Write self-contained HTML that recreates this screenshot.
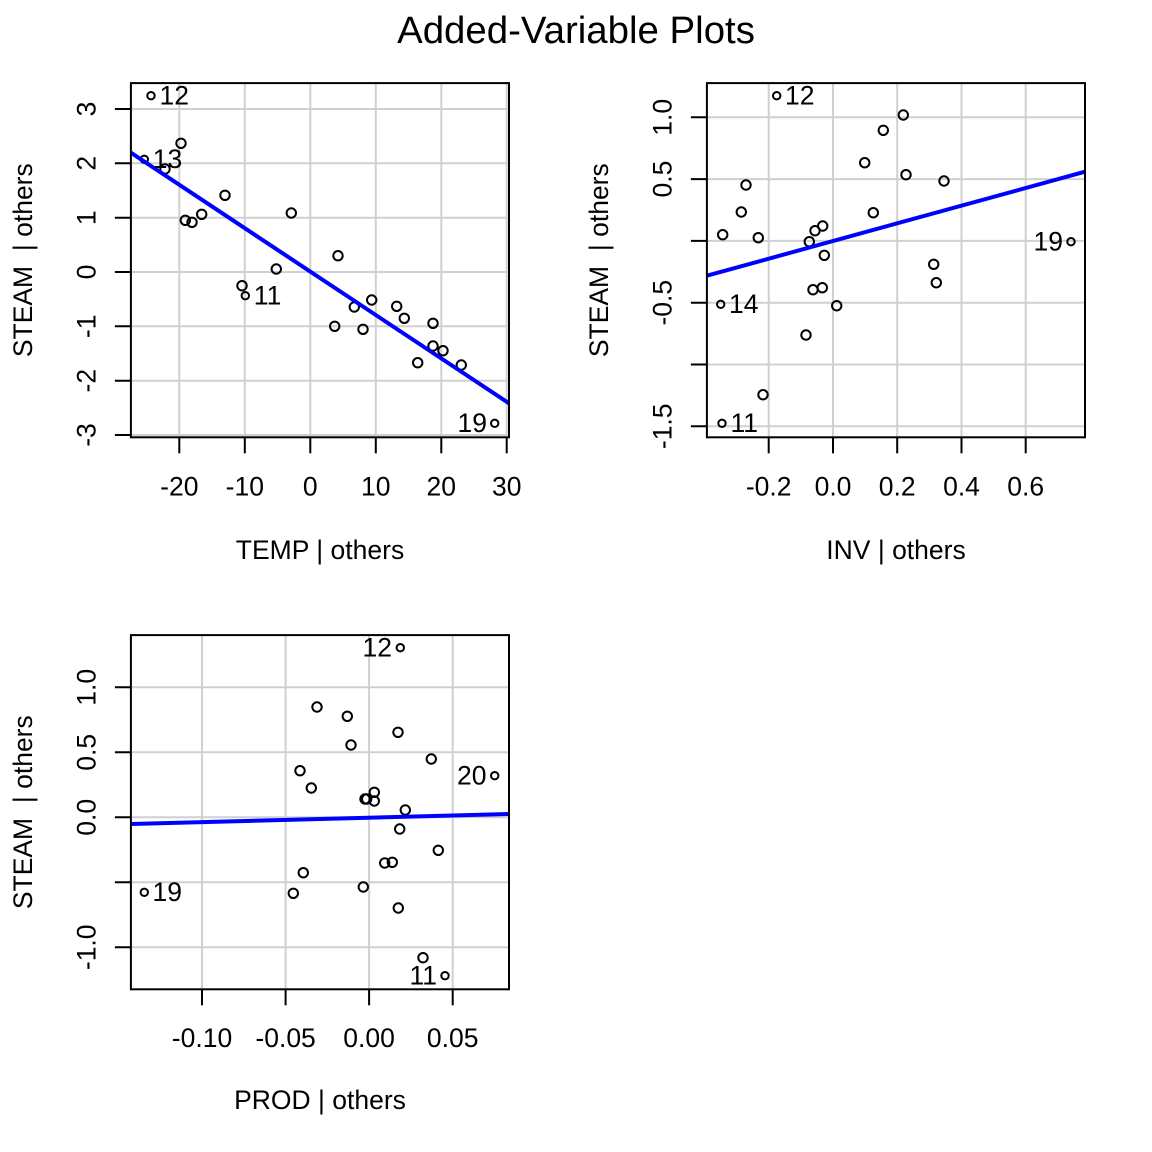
<!DOCTYPE html>
<html>
<head>
<meta charset="utf-8">
<style>
html,body{margin:0;padding:0;background:#fff;}
svg{display:block;}
text{font-family:"Liberation Sans",Arial,Helvetica,sans-serif;fill:#000;}
.t{font-size:26.5px;}
.lab{font-size:26.5px;}
</style>
</head>
<body>
<svg width="1152" height="1152" viewBox="0 0 1152 1152" xmlns="http://www.w3.org/2000/svg">
<rect x="0" y="0" width="1152" height="1152" fill="#fff"/>
<text x="576" y="43" text-anchor="middle" style="font-size:38.4px">Added-Variable Plots</text>

<!-- ================= PLOT 1 ================= -->
<g stroke="#d0d0d0" stroke-width="2" fill="none">
<line x1="179.3" y1="83.1" x2="179.3" y2="437.3"/>
<line x1="244.8" y1="83.1" x2="244.8" y2="437.3"/>
<line x1="310.3" y1="83.1" x2="310.3" y2="437.3"/>
<line x1="375.8" y1="83.1" x2="375.8" y2="437.3"/>
<line x1="441.3" y1="83.1" x2="441.3" y2="437.3"/>
<line x1="506.7" y1="83.1" x2="506.7" y2="437.3"/>
<line x1="130.9" y1="109" x2="509" y2="109"/>
<line x1="130.9" y1="163.3" x2="509" y2="163.3"/>
<line x1="130.9" y1="217.7" x2="509" y2="217.7"/>
<line x1="130.9" y1="272" x2="509" y2="272"/>
<line x1="130.9" y1="326.3" x2="509" y2="326.3"/>
<line x1="130.9" y1="380.7" x2="509" y2="380.7"/>
<line x1="130.9" y1="435" x2="509" y2="435"/>
</g>
<g stroke="#000" stroke-width="2" fill="none">
<circle cx="181" cy="143.3" r="4.7"/>
<circle cx="165" cy="169" r="4.7"/>
<circle cx="225" cy="195.3" r="4.7"/>
<circle cx="185.3" cy="220.3" r="4.7"/>
<circle cx="192" cy="222.3" r="4.7"/>
<circle cx="201.7" cy="214.3" r="4.7"/>
<circle cx="291.3" cy="213" r="4.7"/>
<circle cx="338" cy="255.7" r="4.7"/>
<circle cx="276.3" cy="269" r="4.7"/>
<circle cx="242" cy="285.7" r="4.7"/>
<circle cx="354.3" cy="307" r="4.7"/>
<circle cx="371.7" cy="300" r="4.7"/>
<circle cx="396.7" cy="306.3" r="4.7"/>
<circle cx="404.3" cy="318.3" r="4.7"/>
<circle cx="334.7" cy="326.3" r="4.7"/>
<circle cx="363" cy="329.3" r="4.7"/>
<circle cx="433" cy="323.3" r="4.7"/>
<circle cx="433" cy="346" r="4.7"/>
<circle cx="443" cy="350.7" r="4.7"/>
<circle cx="417.7" cy="362.7" r="4.7"/>
<circle cx="461.3" cy="365" r="4.7"/>
<circle cx="151" cy="95.7" r="3.7"/>
<circle cx="144.3" cy="159.3" r="3.7"/>
<circle cx="245.3" cy="295.7" r="3.7"/>
<circle cx="494.7" cy="423.3" r="3.7"/>
</g>
<line x1="130.9" y1="152.7" x2="509" y2="403.3" stroke="#0000ff" stroke-width="4"/>
<text class="lab" x="159.5" y="104.5">12</text>
<text class="lab" x="152.8" y="168">13</text>
<text class="lab" x="253.8" y="304.5">11</text>
<text class="lab" x="487" y="432" text-anchor="end">19</text>
<rect x="130.9" y="83.1" width="378.1" height="354.2" fill="none" stroke="#000" stroke-width="2"/>
<g stroke="#000" stroke-width="2">
<line x1="179.3" y1="437.3" x2="179.3" y2="453.3"/>
<line x1="244.8" y1="437.3" x2="244.8" y2="453.3"/>
<line x1="310.3" y1="437.3" x2="310.3" y2="453.3"/>
<line x1="375.8" y1="437.3" x2="375.8" y2="453.3"/>
<line x1="441.3" y1="437.3" x2="441.3" y2="453.3"/>
<line x1="506.7" y1="437.3" x2="506.7" y2="453.3"/>
<line x1="130.9" y1="109" x2="114.9" y2="109"/>
<line x1="130.9" y1="163.3" x2="114.9" y2="163.3"/>
<line x1="130.9" y1="217.7" x2="114.9" y2="217.7"/>
<line x1="130.9" y1="272" x2="114.9" y2="272"/>
<line x1="130.9" y1="326.3" x2="114.9" y2="326.3"/>
<line x1="130.9" y1="380.7" x2="114.9" y2="380.7"/>
<line x1="130.9" y1="435" x2="114.9" y2="435"/>
</g>
<g class="t" text-anchor="middle">
<text x="179.3" y="495.5">-20</text>
<text x="244.8" y="495.5">-10</text>
<text x="310.3" y="495.5">0</text>
<text x="375.8" y="495.5">10</text>
<text x="441.3" y="495.5">20</text>
<text x="506.7" y="495.5">30</text>
<text transform="translate(95.4,109) rotate(-90)">3</text>
<text transform="translate(95.4,163.3) rotate(-90)">2</text>
<text transform="translate(95.4,217.7) rotate(-90)">1</text>
<text transform="translate(95.4,272) rotate(-90)">0</text>
<text transform="translate(95.4,326.3) rotate(-90)">-1</text>
<text transform="translate(95.4,380.7) rotate(-90)">-2</text>
<text transform="translate(95.4,435) rotate(-90)">-3</text>
<text x="320" y="559">TEMP | others</text>
<text transform="translate(32,260.2) rotate(-90)" style="white-space:pre">STEAM  | others</text>
</g>

<!-- ================= PLOT 2 ================= -->
<g stroke="#d0d0d0" stroke-width="2" fill="none">
<line x1="768.7" y1="83.1" x2="768.7" y2="437.3"/>
<line x1="833" y1="83.1" x2="833" y2="437.3"/>
<line x1="897.2" y1="83.1" x2="897.2" y2="437.3"/>
<line x1="961.5" y1="83.1" x2="961.5" y2="437.3"/>
<line x1="1025.7" y1="83.1" x2="1025.7" y2="437.3"/>
<line x1="706.9" y1="117.3" x2="1085" y2="117.3"/>
<line x1="706.9" y1="179.1" x2="1085" y2="179.1"/>
<line x1="706.9" y1="240.9" x2="1085" y2="240.9"/>
<line x1="706.9" y1="302.7" x2="1085" y2="302.7"/>
<line x1="706.9" y1="364.5" x2="1085" y2="364.5"/>
<line x1="706.9" y1="426.3" x2="1085" y2="426.3"/>
</g>
<g stroke="#000" stroke-width="2" fill="none">
<circle cx="903.3" cy="115" r="4.7"/>
<circle cx="883.3" cy="130.3" r="4.7"/>
<circle cx="864.7" cy="162.7" r="4.7"/>
<circle cx="906" cy="174.7" r="4.7"/>
<circle cx="944" cy="181" r="4.7"/>
<circle cx="746" cy="185" r="4.7"/>
<circle cx="741.3" cy="212" r="4.7"/>
<circle cx="873.3" cy="212.7" r="4.7"/>
<circle cx="722.7" cy="234.7" r="4.7"/>
<circle cx="758.3" cy="237.7" r="4.7"/>
<circle cx="815" cy="230.7" r="4.7"/>
<circle cx="822.7" cy="226" r="4.7"/>
<circle cx="809.3" cy="241.7" r="4.7"/>
<circle cx="824.3" cy="255.3" r="4.7"/>
<circle cx="933.7" cy="264.3" r="4.7"/>
<circle cx="936.3" cy="282.7" r="4.7"/>
<circle cx="813" cy="289.7" r="4.7"/>
<circle cx="822.3" cy="287.7" r="4.7"/>
<circle cx="836.7" cy="305.7" r="4.7"/>
<circle cx="806" cy="335" r="4.7"/>
<circle cx="763" cy="394.7" r="4.7"/>
<circle cx="776.7" cy="95.7" r="3.7"/>
<circle cx="1071" cy="241.7" r="3.7"/>
<circle cx="720.7" cy="304.3" r="3.7"/>
<circle cx="722" cy="423.3" r="3.7"/>
</g>
<line x1="706.9" y1="275.7" x2="1085" y2="171.7" stroke="#0000ff" stroke-width="4"/>
<text class="lab" x="785" y="104.5">12</text>
<text class="lab" x="729" y="313">14</text>
<text class="lab" x="730.5" y="432">11</text>
<text class="lab" x="1063" y="250.5" text-anchor="end">19</text>
<rect x="706.9" y="83.1" width="378.1" height="354.2" fill="none" stroke="#000" stroke-width="2"/>
<g stroke="#000" stroke-width="2">
<line x1="768.7" y1="437.3" x2="768.7" y2="453.3"/>
<line x1="833" y1="437.3" x2="833" y2="453.3"/>
<line x1="897.2" y1="437.3" x2="897.2" y2="453.3"/>
<line x1="961.5" y1="437.3" x2="961.5" y2="453.3"/>
<line x1="1025.7" y1="437.3" x2="1025.7" y2="453.3"/>
<line x1="706.9" y1="117.3" x2="690.9" y2="117.3"/>
<line x1="706.9" y1="179.1" x2="690.9" y2="179.1"/>
<line x1="706.9" y1="240.9" x2="690.9" y2="240.9"/>
<line x1="706.9" y1="302.7" x2="690.9" y2="302.7"/>
<line x1="706.9" y1="364.5" x2="690.9" y2="364.5"/>
<line x1="706.9" y1="426.3" x2="690.9" y2="426.3"/>
</g>
<g class="t" text-anchor="middle">
<text x="768.7" y="495.5">-0.2</text>
<text x="833" y="495.5">0.0</text>
<text x="897.2" y="495.5">0.2</text>
<text x="961.5" y="495.5">0.4</text>
<text x="1025.7" y="495.5">0.6</text>
<text transform="translate(671.4,117.3) rotate(-90)">1.0</text>
<text transform="translate(671.4,179.1) rotate(-90)">0.5</text>
<text transform="translate(671.4,302.7) rotate(-90)">-0.5</text>
<text transform="translate(671.4,426.3) rotate(-90)">-1.5</text>
<text x="896" y="559">INV | others</text>
<text transform="translate(608,260.2) rotate(-90)" style="white-space:pre">STEAM  | others</text>
</g>

<!-- ================= PLOT 3 ================= -->
<g stroke="#d0d0d0" stroke-width="2" fill="none">
<line x1="202" y1="635.1" x2="202" y2="989.3"/>
<line x1="285.6" y1="635.1" x2="285.6" y2="989.3"/>
<line x1="369.1" y1="635.1" x2="369.1" y2="989.3"/>
<line x1="452.7" y1="635.1" x2="452.7" y2="989.3"/>
<line x1="130.9" y1="687.3" x2="509" y2="687.3"/>
<line x1="130.9" y1="752.3" x2="509" y2="752.3"/>
<line x1="130.9" y1="817.3" x2="509" y2="817.3"/>
<line x1="130.9" y1="882.3" x2="509" y2="882.3"/>
<line x1="130.9" y1="947.3" x2="509" y2="947.3"/>
</g>
<g stroke="#000" stroke-width="2" fill="none">
<circle cx="317" cy="707" r="4.7"/>
<circle cx="347.3" cy="716.3" r="4.7"/>
<circle cx="398" cy="732.3" r="4.7"/>
<circle cx="351" cy="745" r="4.7"/>
<circle cx="431.3" cy="759" r="4.7"/>
<circle cx="300" cy="770.7" r="4.7"/>
<circle cx="311.3" cy="788" r="4.7"/>
<circle cx="374.3" cy="792.3" r="4.7"/>
<circle cx="365" cy="799" r="4.7"/>
<circle cx="366.7" cy="799" r="4.7"/>
<circle cx="374.3" cy="801" r="4.7"/>
<circle cx="405.3" cy="810" r="4.7"/>
<circle cx="399.7" cy="829" r="4.7"/>
<circle cx="438.3" cy="850.3" r="4.7"/>
<circle cx="384.7" cy="863" r="4.7"/>
<circle cx="392.3" cy="862.3" r="4.7"/>
<circle cx="303.3" cy="872.7" r="4.7"/>
<circle cx="293.3" cy="893.3" r="4.7"/>
<circle cx="363.3" cy="887" r="4.7"/>
<circle cx="398.3" cy="908" r="4.7"/>
<circle cx="423" cy="957.7" r="4.7"/>
<circle cx="400.3" cy="647.7" r="3.7"/>
<circle cx="494.7" cy="775.7" r="3.7"/>
<circle cx="144.3" cy="892.3" r="3.7"/>
<circle cx="445" cy="975.7" r="3.7"/>
</g>
<line x1="130.9" y1="824" x2="509" y2="814" stroke="#0000ff" stroke-width="4"/>
<text class="lab" x="392" y="656.5" text-anchor="end">12</text>
<text class="lab" x="486.5" y="784.5" text-anchor="end">20</text>
<text class="lab" x="152.5" y="901">19</text>
<text class="lab" x="437" y="984.5" text-anchor="end">11</text>
<rect x="130.9" y="635.1" width="378.1" height="354.2" fill="none" stroke="#000" stroke-width="2"/>
<g stroke="#000" stroke-width="2">
<line x1="202" y1="989.3" x2="202" y2="1005.3"/>
<line x1="285.6" y1="989.3" x2="285.6" y2="1005.3"/>
<line x1="369.1" y1="989.3" x2="369.1" y2="1005.3"/>
<line x1="452.7" y1="989.3" x2="452.7" y2="1005.3"/>
<line x1="130.9" y1="687.3" x2="114.9" y2="687.3"/>
<line x1="130.9" y1="752.3" x2="114.9" y2="752.3"/>
<line x1="130.9" y1="817.3" x2="114.9" y2="817.3"/>
<line x1="130.9" y1="882.3" x2="114.9" y2="882.3"/>
<line x1="130.9" y1="947.3" x2="114.9" y2="947.3"/>
</g>
<g class="t" text-anchor="middle">
<text x="202" y="1047">-0.10</text>
<text x="285.6" y="1047">-0.05</text>
<text x="369.1" y="1047">0.00</text>
<text x="452.7" y="1047">0.05</text>
<text transform="translate(95.4,687.3) rotate(-90)">1.0</text>
<text transform="translate(95.4,752.3) rotate(-90)">0.5</text>
<text transform="translate(95.4,817.3) rotate(-90)">0.0</text>
<text transform="translate(95.4,947.3) rotate(-90)">-1.0</text>
<text x="320" y="1109">PROD | others</text>
<text transform="translate(32,812.2) rotate(-90)" style="white-space:pre">STEAM  | others</text>
</g>
</svg>
</body>
</html>
